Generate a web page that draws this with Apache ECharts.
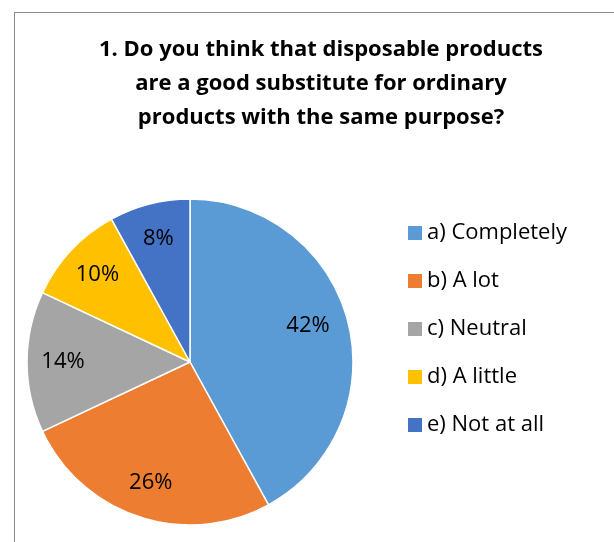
<!DOCTYPE html>
<html><head><meta charset="utf-8">
<script src="https://cdn.jsdelivr.net/npm/echarts@6/dist/echarts.min.js"></script>
<style>html,body{margin:0;padding:0;background:#fff}#c{width:614px;height:542px;position:relative}
#frame{position:absolute;left:14px;top:12px;width:620px;height:560px;border:1px solid #8c8c8c;box-sizing:border-box;pointer-events:none}</style>
</head><body><div id="c"></div><div id="frame"></div>
<script>
const categories = ['a) Completely', 'b) A lot', 'c) Neutral', 'd) A little', 'e) Not at all'];
const values = [42, 26, 14, 10, 8];
const colors = ['#5B9BD5', '#ED7D31', '#A5A5A5', '#FFC000', '#4472C4'];
const titleText = '1. Do you think that disposable products\nare a good substitute for ordinary\nproducts with the same purpose?';

const data = categories.map((n, i) => ({ name: n, value: values[i], itemStyle: { color: colors[i] } }));
const font = "'Open Sans', 'Liberation Sans', sans-serif";
const chart = echarts.init(document.getElementById('c'));
chart.setOption({
  animation: false,
  title: {
    text: titleText, left: 316, top: 28, textAlign: 'center',
    textStyle: { fontFamily: font, fontSize: 22, fontWeight: 'bold', color: '#000', lineHeight: 34 }
  },
  legend: {
    orient: 'vertical', left: 403, top: 217, itemWidth: 14, itemHeight: 14, itemGap: 26,
    icon: 'rect', data: categories,
    itemStyle: { borderWidth: 0 },
    textStyle: { fontFamily: font, fontSize: 22, lineHeight: 22, color: '#000', padding: [0, 0, 0, 0] }
  },
  series: [{
    type: 'pie', center: [190, 362], radius: 163, startAngle: 90, clockwise: true,
    data: data, label: { show: false }, labelLine: { show: false },
    itemStyle: { borderColor: '#fff', borderWidth: 1.5 }, silent: true
  }, {
    type: 'pie', center: [190, 362], radius: [85, 163], startAngle: 90, clockwise: true,
    data: categories.map((n, i) => ({ name: n, value: values[i],
      label: i === 0 ? { offset: [-5, -5] } : undefined })),
    itemStyle: { color: 'rgba(0,0,0,0)' }, silent: true, legendHoverLink: false,
    label: { show: true, position: 'inside', formatter: p => p.value + '%',
      fontFamily: font, fontSize: 22, color: '#000' },
    labelLine: { show: false }
  }]
});
</script></body></html>
